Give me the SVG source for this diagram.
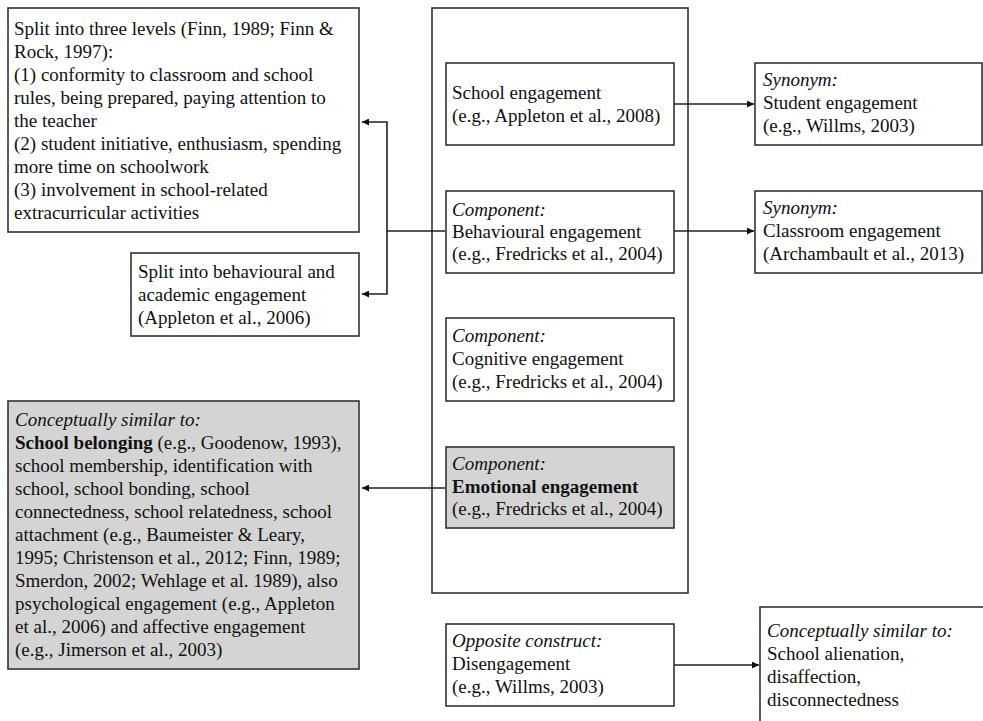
<svg xmlns="http://www.w3.org/2000/svg" width="983" height="721" viewBox="0 0 983 721">
<style>
text{font-family:"Liberation Serif","Times New Roman",serif;font-size:19px;fill:#111}
.i{font-style:italic}
.b{font-weight:bold}
.box{fill:#fff;stroke:#333;stroke-width:1.6}
.g{fill:#d4d4d4}
.c{fill:none;stroke:#222;stroke-width:1.6}
</style>
<defs>
<marker id="ah" viewBox="0 0 10 10" refX="10" refY="5" markerWidth="9" markerHeight="7" markerUnits="userSpaceOnUse" orient="auto">
<path d="M0,0 L10,5 L0,10 z" fill="#111"/>
</marker>
</defs>
<rect width="983" height="721" fill="#fff"/>

<g id="main-frame"><rect class="box" x="432" y="8" width="256" height="585"/></g>

<g id="connectors">
<path class="c" d="M445,231 H387 V122 H362" marker-end="url(#ah)"/>
<path class="c" d="M387,231 V294 H362" marker-end="url(#ah)"/>
<path class="c" d="M445,488 H362" marker-end="url(#ah)"/>
<path class="c" d="M674,104 H754" marker-end="url(#ah)"/>
<path class="c" d="M674,231 H754" marker-end="url(#ah)"/>
<path class="c" d="M674,665 H759" marker-end="url(#ah)"/>
</g>

<g id="three-levels">
<rect class="box" x="8" y="8" width="351" height="224"/>
<text x="14" y="35">Split into three levels (Finn, 1989; Finn &amp;</text>
<text x="14" y="58">Rock, 1997):</text>
<text x="14" y="81">(1) conformity to classroom and school</text>
<text x="14" y="104">rules, being prepared, paying attention to</text>
<text x="14" y="127">the teacher</text>
<text x="14" y="150">(2) student initiative, enthusiasm, spending</text>
<text x="14" y="173">more time on schoolwork</text>
<text x="14" y="196">(3) involvement in school-related</text>
<text x="14" y="219">extracurricular activities</text>
</g>

<g id="behav-academic">
<rect class="box" x="131" y="253" width="228" height="83"/>
<text x="138" y="278">Split into behavioural and</text>
<text x="138" y="301">academic engagement</text>
<text x="138" y="324">(Appleton et al., 2006)</text>
</g>

<g id="belonging">
<rect class="box g" x="8" y="401" width="351" height="268"/>
<text x="15" y="426" class="i">Conceptually similar to:</text>
<text x="15" y="449"><tspan class="b">School belonging</tspan> (e.g., Goodenow, 1993),</text>
<text x="15" y="472">school membership, identification with</text>
<text x="15" y="495">school, school bonding, school</text>
<text x="15" y="518">connectedness, school relatedness, school</text>
<text x="15" y="541">attachment (e.g., Baumeister &amp; Leary,</text>
<text x="15" y="564">1995; Christenson et al., 2012; Finn, 1989;</text>
<text x="15" y="587">Smerdon, 2002; Wehlage et al. 1989), also</text>
<text x="15" y="610">psychological engagement (e.g., Appleton</text>
<text x="15" y="633">et al., 2006) and affective engagement</text>
<text x="15" y="656">(e.g., Jimerson et al., 2003)</text>
</g>

<g id="school-engagement">
<rect class="box" x="446" y="63" width="228" height="82"/>
<text x="452" y="99">School engagement</text>
<text x="452" y="122">(e.g., Appleton et al., 2008)</text>
</g>

<g id="behavioural">
<rect class="box" x="446" y="191" width="228" height="82"/>
<text x="452" y="216" class="i">Component:</text>
<text x="452" y="238">Behavioural engagement</text>
<text x="452" y="260">(e.g., Fredricks et al., 2004)</text>
</g>

<g id="cognitive">
<rect class="box" x="446" y="318" width="228" height="83"/>
<text x="452" y="342" class="i">Component:</text>
<text x="452" y="365">Cognitive engagement</text>
<text x="452" y="388">(e.g., Fredricks et al., 2004)</text>
</g>

<g id="emotional">
<rect class="box g" x="446" y="447" width="228" height="81"/>
<text x="452" y="470" class="i">Component:</text>
<text x="452" y="493" class="b">Emotional engagement</text>
<text x="452" y="515">(e.g., Fredricks et al., 2004)</text>
</g>

<g id="disengagement">
<rect class="box" x="446" y="624" width="228" height="82"/>
<text x="452" y="647" class="i">Opposite construct:</text>
<text x="452" y="670">Disengagement</text>
<text x="452" y="693">(e.g., Willms, 2003)</text>
</g>

<g id="student-engagement">
<rect class="box" x="755" y="63" width="227" height="82"/>
<text x="763" y="86" class="i">Synonym:</text>
<text x="763" y="109">Student engagement</text>
<text x="763" y="132">(e.g., Willms, 2003)</text>
</g>

<g id="classroom-engagement">
<rect class="box" x="755" y="191" width="227" height="82"/>
<text x="763" y="214" class="i">Synonym:</text>
<text x="763" y="237">Classroom engagement</text>
<text x="763" y="260">(Archambault et al., 2013)</text>
</g>

<g id="alienation">
<rect class="box" x="760" y="607" width="240" height="130"/>
<text x="767" y="637" class="i">Conceptually similar to:</text>
<text x="767" y="660">School alienation,</text>
<text x="767" y="683">disaffection,</text>
<text x="767" y="706">disconnectedness</text>
</g>
</svg>
